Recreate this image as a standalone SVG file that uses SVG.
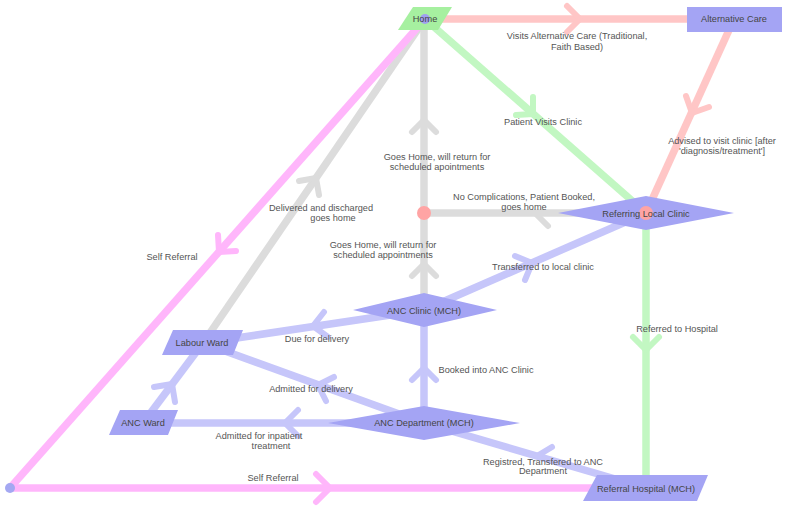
<svg xmlns="http://www.w3.org/2000/svg" width="787" height="506" viewBox="0 0 787 506">
<style>
.c{fill:none;stroke-width:7.5;stroke-linecap:butt}
.a{fill:none;stroke-width:6;stroke-linecap:round;stroke-linejoin:round}
.pk{stroke:#ffb6fb}.rd{stroke:#ffc6c6}.gn{stroke:#c2f7c2}.gy{stroke:#dcdcdc}.bl{stroke:#c6c6fa}
.n{fill:#a4a4f4}
.t{font-family:"Liberation Sans",Arial,sans-serif;font-size:9.2px;fill:#555;text-anchor:middle}
.nt{font-family:"Liberation Sans",Arial,sans-serif;font-size:9.2px;fill:#444;text-anchor:middle}
</style>
<rect width="787" height="506" fill="#fff"/>
<g id="connectors">
  <!-- lines -->
  <line class="c rd" x1="425" y1="19" x2="734" y2="19"/>
  <line class="c rd" x1="734" y1="19" x2="646" y2="213"/>
  <line class="c gn" x1="425" y1="19" x2="646" y2="213"/>
  <line class="c gn" x1="646" y1="213" x2="646" y2="488"/>
  <line class="c gy" x1="646" y1="213" x2="424" y2="213"/>
  <line class="c gy" x1="424" y1="213" x2="424" y2="19"/>
  <line class="c gy" x1="424" y1="310" x2="424" y2="213"/>
  <line class="c gy" x1="203" y1="343" x2="425" y2="19"/>
  <line class="c pk" x1="425" y1="19" x2="10" y2="488"/>
  <line class="c pk" x1="10" y1="488" x2="640" y2="488"/>
  <line class="c bl" x1="424" y1="310" x2="203" y2="343"/>
  <line class="c bl" x1="424" y1="423" x2="203" y2="343"/>
  <line class="c bl" x1="424" y1="423" x2="143" y2="423"/>
  <line class="c bl" x1="143" y1="423" x2="203" y2="343"/>
  <line class="c bl" x1="424" y1="423" x2="424" y2="310"/>
  <line class="c bl" x1="424" y1="310" x2="646" y2="213"/>
  <line class="c bl" x1="646" y1="488" x2="424" y2="423"/>
  <!-- chevrons -->
  <polyline class="a rd" points="567,6 580,19 567,32"/>
  <polyline class="a rd" points="709,107 692,113 686,96"/>
  <polyline class="a gn" points="533,97 533,114 516,115"/>
  <polyline class="a gn" points="633,337 646,350 659,337"/>
  <polyline class="a gy" points="535,213 548,226"/>
  <polyline class="a gy" points="412,132 424,120 436,132"/>
  <polyline class="a gy" points="412,276 424,264 436,276"/>
  <polyline class="a gy" points="299,181 316,178 319,195"/>
  <polyline class="a pk" points="218,235 219,252 236,251"/>
  <polyline class="a pk" points="316,474 330,488 316,502"/>
  <polyline class="a bl" points="324,312 313,326 328,337"/>
  <polyline class="a bl" points="334,377 318,385 326,401"/>
  <polyline class="a bl" points="298,410 285,423 298,436"/>
  <polyline class="a bl" points="154,387 172,384 175,402"/>
  <polyline class="a bl" points="412,380 424,368 436,380"/>
  <polyline class="a bl" points="515,256 532,263 525,280"/>
  <polyline class="a bl" points="537,456 552,447"/>
  <circle cx="424" cy="213" r="7" fill="#ffa4a4"/>
  <circle cx="10" cy="488" r="5" fill="#a4a8f2"/>
  <!-- labels -->
  <text class="t" x="577" y="39.3">Visits Alternative Care (Traditional,</text>
  <text class="t" x="577" y="50.3">Faith Based)</text>
  <text class="t" x="543" y="125.3">Patient Visits Clinic</text>
  <text class="t" x="722" y="144.3">Advised to visit clinic [after</text>
  <text class="t" x="722" y="154.3">'diagnosis/treatment']</text>
  <text class="t" x="437" y="160.3">Goes Home, will return for</text>
  <text class="t" x="437" y="170.3">scheduled apointments</text>
  <text class="t" x="524" y="200.3">No Complications, Patient Booked,</text>
  <text class="t" x="524" y="210.3">goes home</text>
  <text class="t" x="321" y="211.3">Delivered and discharged</text>
  <text class="t" x="333" y="221.3">goes home</text>
  <text class="t" x="383" y="248.3">Goes Home, will return for</text>
  <text class="t" x="383" y="258.3">scheduled appointments</text>
  <text class="t" x="172" y="260.3">Self Referral</text>
  <text class="t" x="543" y="270.3">Transferred to local clinic</text>
  <text class="t" x="677" y="332.3">Referred to Hospital</text>
  <text class="t" x="317" y="342.3">Due for delivery</text>
  <text class="t" x="486" y="373.3">Booked into ANC Clinic</text>
  <text class="t" x="311" y="392.3">Admitted for delivery</text>
  <text class="t" x="259" y="439.3">Admitted for inpatient</text>
  <text class="t" x="271" y="449.3">treatment</text>
  <text class="t" x="543" y="465.3">Registred, Transfered to ANC</text>
  <text class="t" x="543" y="474.3">Department</text>
  <text class="t" x="273" y="481.3">Self Referral</text>
</g>
<g id="home">
  <polygon points="413,7 452,7 438,30 398,30" fill="#a6f0a0"/>
  <circle cx="425" cy="19" r="5" fill="#a0a0f0"/>
  <text class="nt" x="425" y="22.3">Home</text>
</g>
<g id="alternative-care">
  <rect class="n" x="687" y="7" width="95" height="25"/>
  <text class="nt" x="734" y="22.3">Alternative Care</text>
</g>
<g id="referring-local-clinic">
  <polygon class="n" points="558,213 646,196 734,213 646,230"/>
  <circle cx="646" cy="213" r="7" fill="#ffa4a4"/>
  <text class="nt" x="646" y="217.3">Referring Local Clinic</text>
</g>
<g id="anc-clinic">
  <polygon class="n" points="353,310 424,293 497,310 424,327"/>
  <text class="nt" x="424" y="314.3">ANC Clinic (MCH)</text>
</g>
<g id="labour-ward">
  <polygon class="n" points="173,330 243,330 233,355 162,355"/>
  <text class="nt" x="202" y="346.3">Labour Ward</text>
</g>
<g id="anc-department">
  <polygon class="n" points="328,423 424,406 520,423 424,440"/>
  <text class="nt" x="424" y="426.3">ANC Department (MCH)</text>
</g>
<g id="anc-ward">
  <polygon class="n" points="120,410 178,410 168,435 109,435"/>
  <text class="nt" x="143" y="426.3">ANC Ward</text>
</g>
<g id="referral-hospital">
  <polygon class="n" points="597,475 708,475 697,501 583,501"/>
  <text class="nt" x="646" y="492.3">Referral Hospital (MCH)</text>
</g>
</svg>
